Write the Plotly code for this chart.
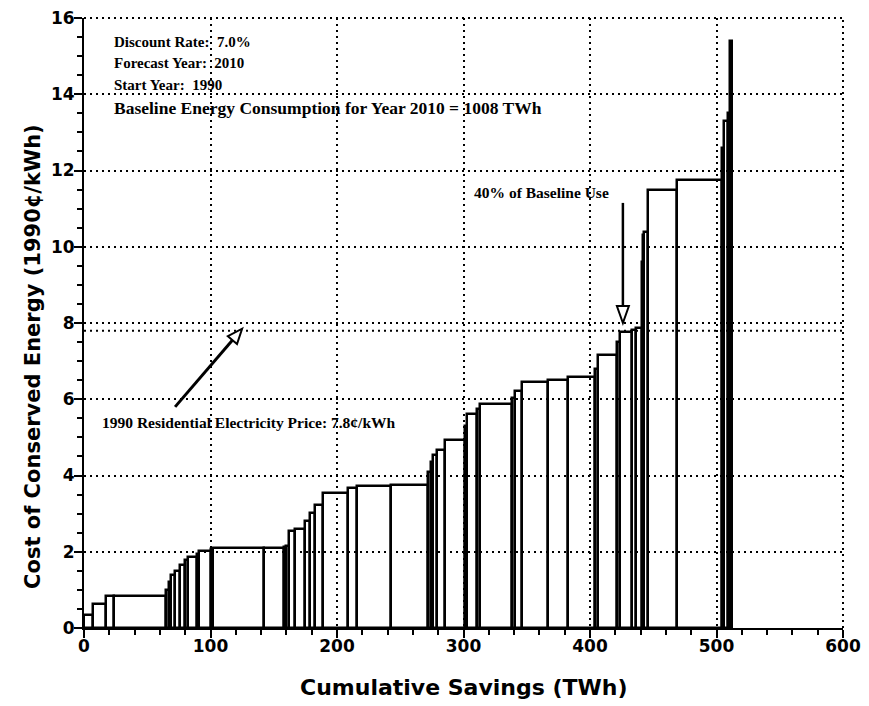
import numpy as np
import plotly.graph_objects as go

# Energy-efficiency measures: savings (TWh) and cost of conserved energy (1990 cents/kWh)
savings_twh = [7, 10, 7, 41, 2, 2, 3, 4, 4, 2, 7, 2, 9, 2, 40, 16, 2, 2, 5, 8,
               4, 4, 6, 20, 7, 27, 29, 2, 2, 3, 6, 16, 2, 8, 2, 25, 3, 5, 21, 16,
               21, 2, 15, 3, 9, 3, 5, 1, 1, 3, 23, 35, 2, 3, 2, 1]
cost_cents = [0.35, 0.62, 0.85, 0.85, 1.0, 1.2, 1.4, 1.5, 1.65, 1.78, 1.86, 1.95, 2.02, 2.08,
              2.1, 2.1, 2.12, 2.15, 2.55, 2.6, 2.8, 3.02, 3.22, 3.55, 3.67, 3.72, 3.76,
              4.1, 4.35, 4.53, 4.67, 4.93, 5.3, 5.62, 5.75, 5.87, 6.04, 6.22, 6.44, 6.5,
              6.58, 6.8, 7.17, 7.5, 7.76, 7.82, 7.87, 9.6, 10.3, 10.4, 11.5, 11.75,
              12.6, 13.3, 13.5, 15.4]

x_ticks = [0, 100, 200, 300, 400, 500, 600]
y_ticks = [0, 2, 4, 6, 8, 10, 12, 14, 16]
electricity_price = 7.8
baseline_40pct_x = 426

info_lines = ["Discount Rate:  7.0%", "Forecast Year:  2010", "Start Year:  1990",
              "Baseline Energy Consumption for Year 2010 = 1008 TWh"]
info_y = [15.36, 14.82, 14.25, 13.64]
info_size = [15, 15, 15, 17.5]

w = np.array(savings_twh, dtype=float)
right = np.cumsum(w)
centers = right - w / 2

fig = go.Figure()
fig.add_trace(go.Bar(x=centers, y=cost_cents, width=w, base=0,
                     marker=dict(color="rgba(0,0,0,0)", line=dict(color="black", width=2.5)),
                     showlegend=False, hoverinfo="x+y"))

DOT = "2px,4px"
axis_font = dict(family="DejaVu Sans, Arial, sans-serif", size=17, color="black")

fig.update_layout(
    width=869, height=706,
    margin=dict(l=76, r=34, t=10, b=86),
    paper_bgcolor="white", plot_bgcolor="white",
    bargap=0,
    xaxis=dict(range=[0, 600], tickvals=x_ticks, ticktext=[f"<b>{v}</b>" for v in x_ticks],
               showgrid=True, gridcolor="black", gridwidth=2, griddash=DOT,
               zeroline=False, showline=True, linecolor="black", linewidth=2,
               ticks="outside", ticklen=8, tickwidth=2, tickcolor="black",
               ticklabelstandoff=-6, ticklabeloverflow="allow", automargin=False,
               minor=dict(dtick=20, ticks="outside", ticklen=5, tickwidth=1.5,
                          tickcolor="black", showgrid=False),
               tickfont=axis_font),
    yaxis=dict(range=[0, 16], tickvals=y_ticks, ticktext=[f"<b>{v}</b>" for v in y_ticks],
               showgrid=True, gridcolor="black", gridwidth=2, griddash=DOT,
               zeroline=False, showline=True, linecolor="black", linewidth=2,
               ticks="outside", ticklen=8, tickwidth=2, tickcolor="black",
               ticklabelstandoff=-4, ticklabeloverflow="allow", automargin=False,
               minor=dict(dtick=0.5, ticks="outside", ticklen=5, tickwidth=1.5,
                          tickcolor="black", showgrid=False),
               tickfont=axis_font),
)

dotline = dict(color="black", width=2, dash=DOT)
# frame top/right (dotted) and price line
fig.add_shape(type="line", xref="paper", yref="paper", x0=0, x1=1, y0=1, y1=1, line=dotline)
fig.add_shape(type="line", xref="paper", yref="paper", x0=1, x1=1, y0=0, y1=1, line=dotline)
fig.add_shape(type="line", xref="x", yref="y", x0=0, x1=600, y0=electricity_price,
              y1=electricity_price, line=dotline)

def serif(size):
    return dict(family="Liberation Serif, Times New Roman, serif", size=size, color="black")

for txt, yy, sz in zip(info_lines, info_y, info_size):
    fig.add_annotation(x=22, y=yy, xref="x", yref="y", text=f"<b>{txt}</b>",
                       showarrow=False, xanchor="left", yanchor="middle", font=serif(sz))

fig.add_annotation(x=12.5, y=5.4, xref="x", yref="y",
                   text="<b>1990 Residential Electricity Price: 7.8¢/kWh</b>",
                   showarrow=False, xanchor="left", yanchor="middle", font=serif(15.5))
fig.add_annotation(x=307, y=11.42, xref="x", yref="y", text="<b>40% of Baseline Use</b>",
                   showarrow=False, xanchor="left", yanchor="middle", font=serif(15.5))

# arrow to price line
tip = (125, 7.85)
tail = (72, 5.8)
fig.add_shape(type="line", xref="x", yref="y", x0=tail[0], y0=tail[1], x1=tip[0] - 5, y1=tip[1] - 0.2,
              line=dict(color="black", width=3))
fig.add_shape(type="path", xref="x", yref="y", xsizemode="pixel", ysizemode="pixel",
              xanchor=tip[0], yanchor=tip[1],
              path="M0,0 L-5.1,-15.3 L-14.3,-7.5 Z",
              line=dict(color="black", width=2), fillcolor="white")
# vertical arrow for 40% baseline
fig.add_shape(type="line", xref="x", yref="y", x0=baseline_40pct_x, x1=baseline_40pct_x,
              y0=11.15, y1=8.4, line=dict(color="black", width=2.5))
fig.add_shape(type="path", xref="x", yref="y", xsizemode="pixel", ysizemode="pixel",
              xanchor=baseline_40pct_x, yanchor=8.0,
              path="M0,0 L-6,17 L6,17 Z",
              line=dict(color="black", width=2), fillcolor="white")

# axis titles
fig.add_annotation(x=0.5, y=-0.098, xref="paper", yref="paper",
                   text="<b>Cumulative Savings (TWh)</b>", showarrow=False,
                   xanchor="center", yanchor="middle",
                   font=dict(family="DejaVu Sans, Arial, sans-serif", size=22, color="black"))
fig.add_annotation(x=-0.068, y=0.445, xref="paper", yref="paper",
                   text="<b>Cost of Conserved Energy (1990¢/kWh)</b>", showarrow=False,
                   textangle=-90, xanchor="center", yanchor="middle",
                   font=dict(family="DejaVu Sans, Arial, sans-serif", size=21, color="black"))

fig.write_html("out.html")
